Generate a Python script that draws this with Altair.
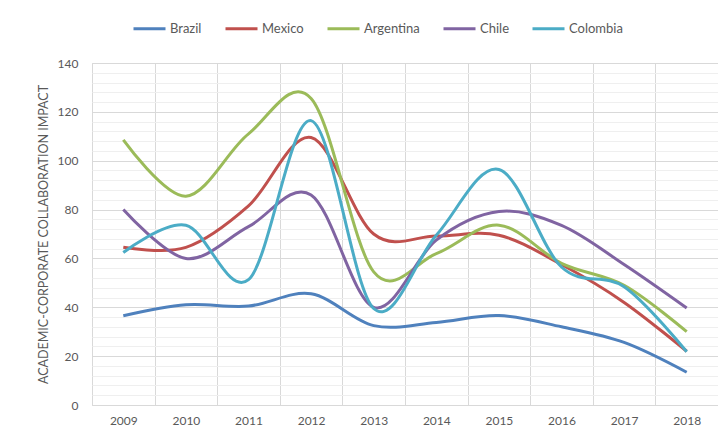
import altair as alt
import pandas as pd

years = ["2009", "2010", "2011", "2012", "2013", "2014", "2015", "2016", "2017", "2018"]
countries = ["Brazil", "Mexico", "Argentina", "Chile", "Colombia"]
colors = ["#4F81BD", "#C0504D", "#9BBB59", "#8064A2", "#4BACC6"]

brazil = [36.5, 41, 40.5, 45.5, 32.5, 33.8, 36.6, 32, 25.6, 13.4]
mexico = [64.6, 64.5, 81.5, 109.5, 70, 69.2, 69.5, 57.5, 42, 22]
argentina = [108.5, 85.5, 111, 125.5, 54.5, 62, 73.6, 58, 49, 30]
chile = [80, 60, 73, 86, 40, 67.5, 79.2, 73.5, 57.5, 39.7]
colombia = [62.4, 73.6, 51.3, 116.4, 39.5, 69.5, 96.4, 56.5, 48.4, 21.8]

series = {
    "Brazil": brazil,
    "Mexico": mexico,
    "Argentina": argentina,
    "Chile": chile,
    "Colombia": colombia,
}

rows = []
for c in countries:
    for y, v in zip(years, series[c]):
        rows.append({"country": c, "year": y, "value": v})
df = pd.DataFrame(rows)

FONT = "Lato"

chart = (
    alt.Chart(df)
    .mark_line(interpolate="cardinal", strokeWidth=3)
    .encode(
        x=alt.X(
            "year:O",
            sort=years,
            scale=alt.Scale(paddingInner=0, paddingOuter=0),
            axis=alt.Axis(
                title=None,
                labelAngle=0,
                tickBand="extent",
                ticks=False,
                domain=False,
                grid=True,
                gridColor="#d9d9d9",
                gridWidth=1,
                labelPadding=10,
                labelFontSize=12,
                labelColor="#595959",
                labelFont=FONT,
            ),
        ),
        y=alt.Y(
            "value:Q",
            scale=alt.Scale(domain=[0, 140], nice=False),
            axis=alt.Axis(
                title="ACADEMIC-CORPORATE COLLABORATION IMPACT",
                values=list(range(0, 141, 4)),
                labelExpr="datum.value % 20 === 0 ? datum.label : ''",
                gridColor={
                    "condition": {"test": "datum.value % 20 === 0", "value": "#d9d9d9"},
                    "value": "#efefef",
                },
                gridWidth=1,
                ticks=False,
                domain=False,
                labelPadding=14,
                labelFontSize=12,
                labelColor="#595959",
                labelFont=FONT,
                titleFont=FONT,
                titleFontSize=12.5,
                titleFontWeight="normal",
                titleColor="#595959",
                titleX=-49,
                titleY=171,
                titleAlign="center",
                titleBaseline="middle",
                titleAngle=270,
            ),
        ),
        color=alt.Color(
            "country:N",
            sort=countries,
            scale=alt.Scale(domain=countries, range=colors),
            legend=alt.Legend(
                title=None,
                orient="none",
                direction="horizontal",
                legendX=40,
                legendY=-52,
                symbolType="stroke",
                symbolSize=1024,
                symbolStrokeWidth=3,
                labelFontSize=13,
                labelFont=FONT,
                labelColor="#595959",
                labelOffset=3,
                columnPadding=17,
            ),
        ),
    )
    .properties(
        width=626,
        height=342,
        padding={"left": 84, "top": 55, "right": 0, "bottom": 25},
        autosize=alt.AutoSizeParams(type="none"),
    )
    .configure_view(stroke="#d9d9d9", strokeWidth=1)
)

chart.save("out.html", embed_options={"renderer": "svg", "actions": False})
